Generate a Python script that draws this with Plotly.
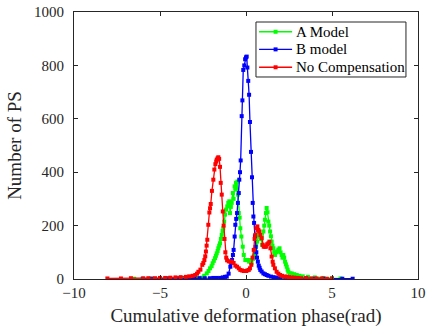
import plotly.graph_objects as go

# A Model (green)
a_x = [-6.5,-6.0,-5.5,-5.0,-4.5,-4.0,-3.6,-3.3,-3.0,-2.8,-2.58,-2.43,-2.28,-2.18,-2.09,-2.0,-1.94,-1.87,-1.80,-1.75,-1.70,-1.65,-1.61,-1.56,-1.51,-1.46,-1.41,-1.36,-1.32,-1.27,-1.22,-1.16,-1.09,-1.03,-0.97,-0.93,-0.88,-0.83,-0.77,-0.72,-0.66,-0.62,-0.58,-0.54,-0.50,-0.46,-0.42,-0.37,-0.33,-0.27,-0.19,-0.13,-0.04,0.04,0.12,0.18,0.25,0.32,0.40,0.45,0.50,0.54,0.59,0.64,0.70,0.76,0.82,0.88,0.94,1.01,1.06,1.10,1.16,1.20,1.25,1.30,1.35,1.40,1.45,1.49,1.54,1.59,1.64,1.69,1.76,1.82,1.88,1.95,2.01,2.07,2.12,2.17,2.22,2.27,2.32,2.37,2.42,2.46,2.56,2.66,2.8,2.95,3.1,3.3,3.6,4.0,4.5,5.0,5.5]
a_y = [1,1,2,2,3,3,3,4,4,4,5,12,21,30,40,48,59,68,78,87,96,105,115,125,134,150,165,180,190,215,241,260,272,285,291,247,270,285,322,300,347,340,360,335,365,316,247,230,190,159,121,90,71,71,71,65,71,60,75,84,95,109,125,140,159,170,160,150,128,178,200,222,247,266,250,215,200,178,160,140,125,115,100,90,100,103,110,115,100,90,80,90,80,65,55,46,35,27,21,21,18,15,12,10,8,6,4,3,2]

# B model (blue)
b_x = [-6.0,-5.5,-5.0,-4.5,-4.0,-3.5,-3.0,-2.7,-2.4,-2.1,-1.9,-1.7,-1.5,-1.35,-1.22,-1.12,-1.01,-0.91,-0.86,-0.81,-0.76,-0.72,-0.66,-0.62,-0.57,-0.52,-0.47,-0.42,-0.39,-0.35,-0.31,-0.25,-0.21,-0.16,-0.10,-0.05,0.0,0.04,0.08,0.13,0.18,0.23,0.29,0.35,0.39,0.43,0.47,0.52,0.56,0.60,0.64,0.69,0.74,0.79,0.83,0.91,1.01,1.1,1.2,1.3,1.45,1.6,1.8,2.0,2.3,2.6,3.0,3.5,4.0,4.5,5.0,5.6,6.2]
b_y = [1,1,1,2,2,2,2,3,3,3,4,4,4,6,8,9,20,46,60,71,90,109,159,203,225,247,285,322,372,400,444,610,669,783,800,823,830,833,792,742,690,588,476,381,285,234,210,160,120,100,80,65,50,42,34,28,21,18,15,12,9,7,5,4,3,2,2,2,1,1,1,1,1]

# No Compensation (red)
n_x = [-8.06,-7.27,-6.69,-5.97,-5.68,-5.29,-5.0,-4.7,-4.4,-4.1,-3.8,-3.5,-3.3,-3.1,-2.95,-2.85,-2.77,-2.65,-2.54,-2.48,-2.42,-2.37,-2.33,-2.29,-2.25,-2.19,-2.13,-2.09,-2.05,-1.98,-1.90,-1.84,-1.78,-1.73,-1.70,-1.65,-1.61,-1.56,-1.51,-1.47,-1.41,-1.35,-1.30,-1.25,-1.20,-1.15,-1.10,-1.0,-0.91,-0.82,-0.72,-0.62,-0.52,-0.42,-0.33,-0.23,-0.13,0.0,0.08,0.16,0.23,0.31,0.38,0.45,0.50,0.54,0.60,0.66,0.72,0.77,0.84,0.91,0.97,1.03,1.10,1.16,1.23,1.30,1.36,1.42,1.49,1.55,1.59,1.68,1.78,1.88,1.98,2.1,2.25,2.37,2.5,2.65,2.8,3.0,3.2,3.5,3.8,4.1,4.4,4.7,5.0]
n_y = [2,2,3,2,3,3,4,4,5,6,7,8,10,12,15,20,27,35,53,60,71,85,103,125,147,203,249,265,281,330,372,410,430,440,447,452,456,450,420,360,316,253,200,150,100,80,70,66,65,65,60,50,46,40,34,32,30,30,32,34,40,53,80,109,150,165,190,197,184,178,165,153,128,121,121,121,130,134,140,115,84,65,53,40,27,20,15,12,9,9,7,6,5,4,3,3,2,2,2,1,1]

names = ["A Model", "B model", "No Compensation"]
colors = ["#00ff00", "#0000ff", "#ff0000"]
series = [(a_x, a_y), (b_x, b_y), (n_x, n_y)]

fig = go.Figure()
for (xs, ys), nm, c in zip(series, names, colors):
    fig.add_trace(go.Scatter(
        x=xs, y=ys, name=nm, mode="lines+markers",
        line=dict(color=c, width=1.3),
        marker=dict(symbol="square", size=4, color=c),
        showlegend=False,
    ))

font = "Liberation Serif"

# Compact legend box (MATLAB style) built from shapes and text
shapes = [dict(type="rect", xref="paper", yref="paper",
               x0=0.529, x1=0.965, y0=0.7566, y1=0.9625,
               line=dict(color="#262626", width=1), fillcolor="white", layer="above")]
annotations = []
row_y = [0.926, 0.860, 0.793]
for nm, c, ry in zip(names, colors, row_y):
    shapes.append(dict(type="line", xref="paper", yref="paper",
                       x0=0.538, x1=0.634, y0=ry, y1=ry,
                       line=dict(color=c, width=1.3), layer="above"))
    shapes.append(dict(type="rect", xref="paper", yref="paper",
                       xsizemode="pixel", ysizemode="pixel",
                       xanchor=0.586, yanchor=ry, x0=-2, x1=2, y0=-2, y1=2,
                       line=dict(color=c, width=0), fillcolor=c, layer="above"))
    annotations.append(dict(xref="paper", yref="paper", x=0.640, y=ry,
                            xanchor="left", yanchor="middle", showarrow=False,
                            text=nm, font=dict(family=font, size=15, color="black")))

fig.update_layout(
    width=426, height=331,
    margin=dict(l=74, r=8, t=12, b=52, autoexpand=False),
    paper_bgcolor="white", plot_bgcolor="white",
    font=dict(family=font, size=15, color="#262626"),
    showlegend=False,
    shapes=shapes,
    annotations=annotations,
    xaxis=dict(
        range=[-10, 10], dtick=5, tick0=-10, automargin=False,
        showline=True, linecolor="#262626", linewidth=1, mirror="ticks",
        ticks="inside", ticklen=4, tickcolor="#262626",
        showgrid=False, zeroline=False,
        tickfont=dict(size=15),
        title=dict(text="Cumulative deformation phase(rad)", font=dict(size=19), standoff=8),
    ),
    yaxis=dict(
        range=[0, 1000], dtick=200, automargin=False,
        showline=True, linecolor="#262626", linewidth=1, mirror="ticks",
        ticks="inside", ticklen=4, tickcolor="#262626",
        showgrid=False, zeroline=False,
        tickfont=dict(size=15), ticklabelstandoff=6,
        title=dict(text="Number of PS", font=dict(size=19), standoff=7),
    ),
)

fig.write_html("out.html")
